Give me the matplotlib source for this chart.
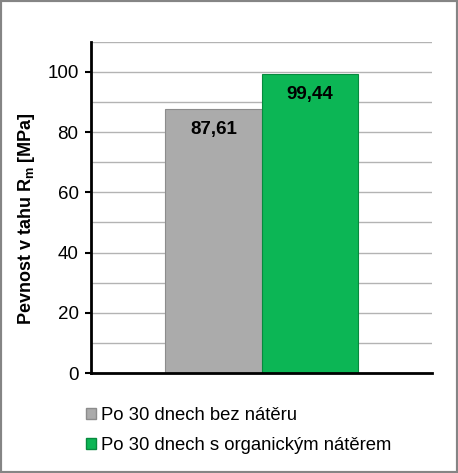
import matplotlib
matplotlib.use('Agg')
import matplotlib.pyplot as plt
import matplotlib.ticker as ticker
from matplotlib.patches import Patch, Rectangle

plt.rcParams['font.family'] = ['Liberation Sans', 'DejaVu Sans']
plt.rcParams['mathtext.fontset'] = 'custom'
plt.rcParams['mathtext.rm'] = 'Liberation Sans:bold'
plt.rcParams['mathtext.bf'] = 'Liberation Sans:bold'

# ----- data -----
series = ['Po 30 dnech bez nátěru', 'Po 30 dnech s organickým nátěrem']
values = [87.61, 99.44]
value_labels = ['87,61', '99,44']
colors = ['#ABABAB', '#0CB655']
edge_colors = ['#8C8C8C', '#078A3E']

fig = plt.figure(figsize=(4.58, 4.73), dpi=100)
ax = fig.add_axes([0.1987, 0.2114, 0.7445, 0.7004])

positions = [0, 1]
for pos, val, col, ec, lab in zip(positions, values, colors, edge_colors, value_labels):
    ax.bar(pos, val, width=1.0, color=col, edgecolor=ec, linewidth=0.8, zorder=3)
    ax.annotate(lab, (pos, val), xytext=(0, -15), textcoords='offset points',
                ha='center', va='center', fontsize=13.5, fontweight='bold', zorder=4)

ax.set_xlim(-1.268, 2.262)
ax.set_ylim(0, 110)
ax.yaxis.set_major_locator(ticker.FixedLocator([0, 20, 40, 60, 80, 100]))
ax.yaxis.set_minor_locator(ticker.MultipleLocator(10))
ax.grid(axis='y', which='both', color='#B3B3B3', linewidth=1.0, zorder=0)
ax.set_axisbelow(True)
ax.set_xticks([])
ax.tick_params(axis='y', which='major', labelsize=13.5, length=4, width=1.5, direction='out', pad=5)
ax.tick_params(axis='y', which='minor', length=0)
for side in ['top', 'right']:
    ax.spines[side].set_visible(False)
for side in ['left', 'bottom']:
    ax.spines[side].set_linewidth(2)
    ax.spines[side].set_zorder(5)

ax.set_ylabel('Pevnost v tahu R$_\\mathbf{m}$ [MPa]', fontsize=13, fontweight='bold')
ax.yaxis.set_label_coords(-0.157, 0.465)

handles = [Patch(facecolor=c, edgecolor=e) for c, e in zip(colors, edge_colors)]
fig.legend(handles, series, loc='upper left', bbox_to_anchor=(0.171, 0.155),
           frameon=False, fontsize=13.3, handlelength=0.55, handleheight=0.55,
           handletextpad=0.3, labelspacing=0.72, borderaxespad=0)

fig.patches.append(Rectangle((0, 0), 1, 1, transform=fig.transFigure, fill=False,
                             edgecolor='#858585', linewidth=3, zorder=10))

fig.savefig('out.png', dpi=100)
